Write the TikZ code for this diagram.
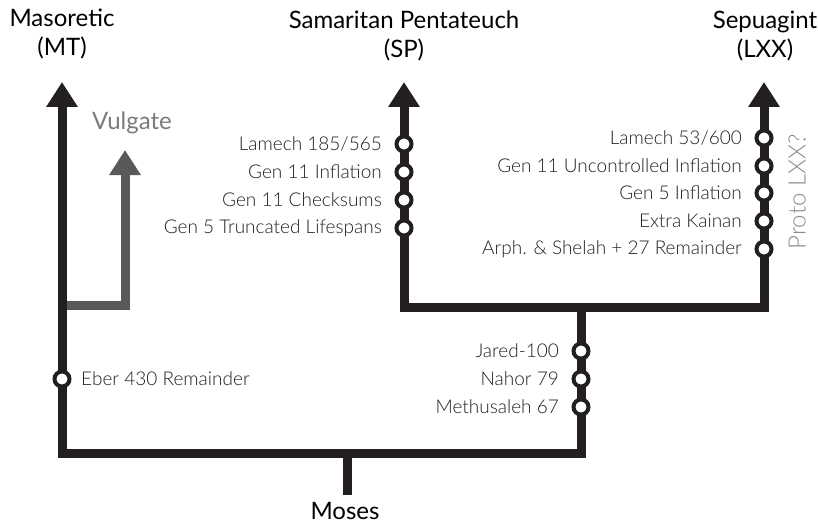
\documentclass[tikz,border=0pt]{standalone}
\usepackage{fontspec}
\setmainfont{Lato}[UprightFont=* Light, BoldFont=* Regular]
\usetikzlibrary{arrows.meta}
\definecolor{ink}{HTML}{231F20}
\definecolor{vulg}{HTML}{58595B}
\definecolor{vtext}{HTML}{7A7B7E}
\definecolor{ptext}{HTML}{8A8B8E}
\tikzset{
  trunk/.style={draw=ink, line width=9pt, line join=miter},
  vtrunk/.style={draw=vulg, line width=9pt, line join=miter},
  tip/.style={-{Triangle[width=30pt,length=25pt]}},
  dot/.style={circle, draw=ink, fill=white, line width=4pt, minimum size=15pt, inner sep=0pt},
  lab/.style={font=\fontsize{19}{21}\selectfont, text=ink, inner sep=0pt},
  title/.style={font=\bfseries\fontsize{24}{29}\selectfont, text=black, align=center, inner sep=0pt},
}
\begin{document}
\begin{tikzpicture}[x=1pt,y=-1pt]
\useasboundingbox (0,0) rectangle (818,524);
% titles
\node[title] (tmt) at (62,34) {Masoretic\\(MT)};
\node[title] (tsp) at (404,36) {Samaritan Pentateuch\\(SP)};
\node[title] (tlxx) at (765,36) {Sepuagint\\(LXX)};
\node[font=\bfseries\fontsize{24}{29}\selectfont, text=vtext, inner sep=0pt] (tvul) at (132,123) {Vulgate};
\node[font=\bfseries\fontsize{24}{29}\selectfont, text=black, inner sep=0pt] (tmoses) at (345,511) {Moses};
\node[font=\fontsize{24}{29}\selectfont, text=ptext, inner sep=0pt, rotate=90] (tproto) at (797,192) {Proto LXX?};
% coordinates
\coordinate (mttip) at (62,82);
\coordinate (vultip) at (125,150);
\coordinate (vulbase) at (62,305);
\coordinate (vulcorner) at (125,305);
\coordinate (sptip) at (404,82);
\coordinate (lxxtip) at (764,82);
\coordinate (spcorner) at (404,307);
\coordinate (lxxcorner) at (764,307);
\coordinate (jtop) at (581,307);
\coordinate (jbot) at (581,453);
\coordinate (mtbot) at (62,453);
\coordinate (mosestop) at (347,453);
\coordinate (mosesbot) at (347,495);
% vulgate branch
\draw[vtrunk, tip] (vulbase) -- (vulcorner) -- (vultip);
% main trunk
\draw[trunk, tip] (jtop) -- (jbot) -- (mtbot) -- (mttip);
\draw[trunk] (mosestop) -- (mosesbot);
\draw[trunk, {Triangle[width=30pt,length=25pt]}-{Triangle[width=30pt,length=25pt]}] (sptip) -- (spcorner) -- (lxxcorner) -- (lxxtip);
% SP markers
\node[dot] (sp1) at (404,144) {};
\node[dot] (sp2) at (404,172) {};
\node[dot] (sp3) at (404,200) {};
\node[dot] (sp4) at (404,228) {};
\node[lab, anchor=east] (lsp1) at (382,144) {Lamech 185/565};
\node[lab, anchor=east] (lsp2) at (382,172) {Gen 11 Inflation};
\node[lab, anchor=east] (lsp3) at (382,200) {Gen 11 Checksums};
\node[lab, anchor=east] (lsp4) at (382,228) {Gen 5 Truncated Lifespans};
% LXX markers
\node[dot] (lx1) at (764,138) {};
\node[dot] (lx2) at (764,166) {};
\node[dot] (lx3) at (764,193) {};
\node[dot] (lx4) at (764,221) {};
\node[dot] (lx5) at (764,249) {};
\node[lab, anchor=east] (llx1) at (742,138) {Lamech 53/600};
\node[lab, anchor=east] (llx2) at (742,166) {Gen 11 Uncontrolled Inflation};
\node[lab, anchor=east] (llx3) at (742,193) {Gen 5 Inflation};
\node[lab, anchor=east] (llx4) at (742,221) {Extra Kainan};
\node[lab, anchor=east] (llx5) at (742,249) {Arph. \& Shelah + 27 Remainder};
% junction markers
\node[dot] (j1) at (581,351) {};
\node[dot] (j2) at (581,379) {};
\node[dot] (j3) at (581,407) {};
\node[lab, anchor=east] (lj1) at (559,351) {Jared-100};
\node[lab, anchor=east] (lj2) at (559,379) {Nahor 79};
\node[lab, anchor=east] (lj3) at (559,407) {Methusaleh 67};
% MT marker
\node[dot] (mt1) at (62,379) {};
\node[lab, anchor=west] (lmt1) at (81,379) {Eber 430 Remainder};
\end{tikzpicture}
\end{document}
